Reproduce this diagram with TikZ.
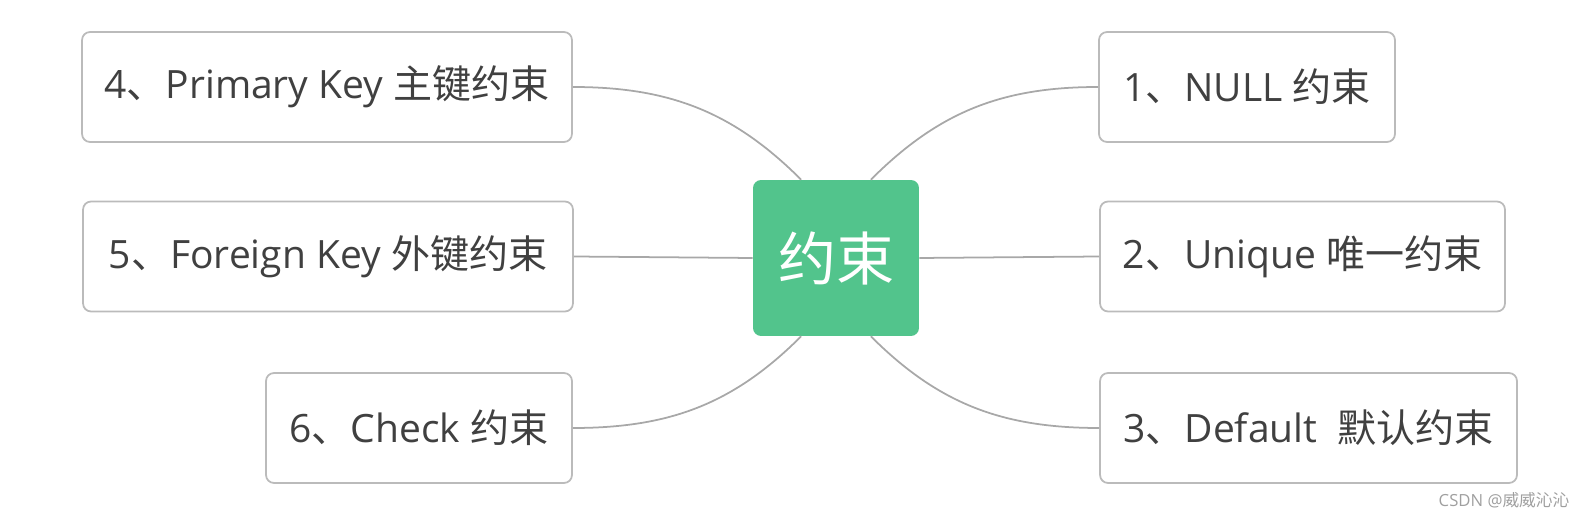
\documentclass[tikz,border=0pt]{standalone}
\usepackage{fontspec}
\setmainfont{Open Sans}
\newfontfamily\cjkfont{Noto Sans CJK SC}
\newcommand{\zh}[1]{{\cjkfont #1}}
\definecolor{rootgreen}{HTML}{52C48C}
\definecolor{boxgray}{HTML}{BBBBBB}
\definecolor{linkgray}{HTML}{A8A8A8}
\definecolor{labelgray}{HTML}{404040}

\begin{document}
\begin{tikzpicture}[x=0.02cm,y=0.02cm,
  topic/.style={draw=boxgray,line width=1pt,rounded corners=0.16cm,fill=white,text=labelgray,font=\fontsize{22.2}{27}\selectfont,minimum height=2.2cm,inner sep=0pt},
  link/.style={draw=linkgray,line width=1pt}]
  \useasboundingbox (0,0) rectangle (1590,-516);
  \node[fill=rootgreen,rounded corners=0.16cm,minimum width=3.32cm,minimum height=3.12cm,inner sep=0pt,text=white,font=\fontsize{33}{40}\selectfont\cjkfont] (root) at (836,-258) {约束};
  \node[topic,minimum width=5.92cm] (null) at (1247,-87) {1\zh{、}NULL \zh{约束}};
  \node[topic,minimum width=8.1cm] (uniq) at (1302.5,-256.5) {2\zh{、}Unique \zh{唯一约束}};
  \node[topic,minimum width=8.34cm] (dflt) at (1308.5,-428) {3\zh{、}Default\ \ \zh{默认约束}};
  \node[topic,minimum width=9.8cm] (pkey) at (327,-87) {4\zh{、}Primary Key \zh{主键约束}};
  \node[topic,minimum width=9.8cm] (fkey) at (328,-256.5) {5\zh{、}Foreign Key \zh{外键约束}};
  \node[topic,minimum width=6.12cm] (chk) at (419,-428) {6\zh{、}Check \zh{约束}};
  \draw[link] (root.66) to[out=45,in=180] (null.west);
  \draw[link] (root.east) -- (uniq.west);
  \draw[link] (root.-66) to[out=-45,in=180] (dflt.west);
  \draw[link] (root.114) to[out=135,in=0] (pkey.east);
  \draw[link] (root.west) -- (fkey.east);
  \draw[link] (root.-114) to[out=-135,in=0] (chk.east);
  \node[text=gray!75,font=\fontsize{9.5}{11}\selectfont] (mark) at (1504,-500) {CSDN @\zh{威威沁沁}};
\end{tikzpicture}
\end{document}
